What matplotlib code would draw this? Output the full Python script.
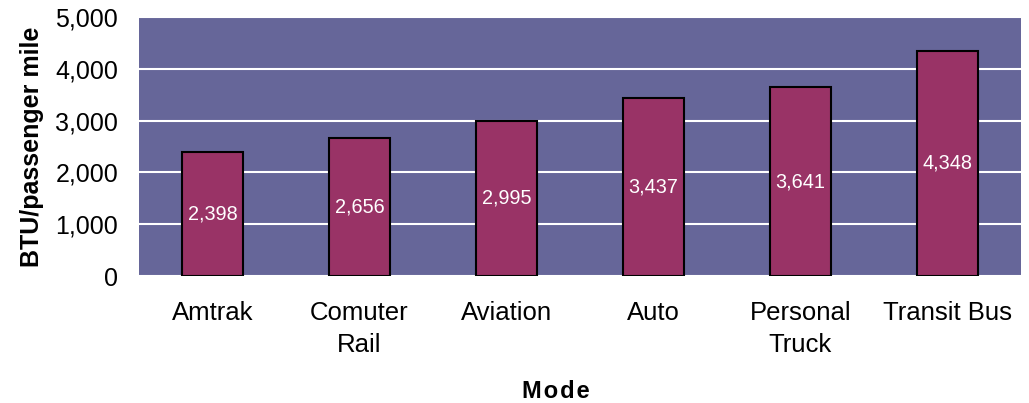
import matplotlib
matplotlib.use('Agg')
import numpy as np
import matplotlib.pyplot as plt

modes = ["Amtrak", "Comuter\nRail", "Aviation", "Auto", "Personal\nTruck", "Transit Bus"]
btu = [2398, 2656, 2995, 3437, 3641, 4348]

plt.rcParams['font.family'] = ['Liberation Sans', 'DejaVu Sans']

fig = plt.figure(figsize=(10.29, 4.03), dpi=100)
ax = fig.add_axes([0.135, 0.315, 0.857, 0.643])
ax.set_facecolor('#666699')

x = np.arange(len(modes))
bars = ax.bar(x, btu, width=0.415, color='#993366', edgecolor='black', linewidth=1.5, zorder=3)
for b, v in zip(bars, btu):
    ax.text(b.get_x() + b.get_width() / 2, v / 2, f"{v:,}", ha='center', va='center',
            color='white', fontsize=14.3, zorder=4)

ax.set_xlim(-0.5, len(modes) - 0.5)
ax.set_ylim(0, 5000)
ax.set_yticks(range(0, 5001, 1000))
ax.set_yticklabels([f"{t:,}" for t in range(0, 5001, 1000)], fontsize=18)
ax.set_xticks(x)
ax.set_xticklabels(modes, fontsize=18.5, linespacing=1.4)
ax.tick_params(axis='y', length=0, pad=15)
ax.tick_params(axis='x', length=0, pad=18)
ax.yaxis.grid(True, color='white', linewidth=1.5, zorder=1)
for s in ax.spines.values():
    s.set_visible(False)

ax.set_ylabel("BTU/passenger mile", fontsize=18, fontweight='bold', labelpad=8)
fig.text(0.54, 0.012, "M\u200ao\u200ad\u200ae", fontsize=17, fontweight='bold', ha='center')

plt.savefig("out.png")
